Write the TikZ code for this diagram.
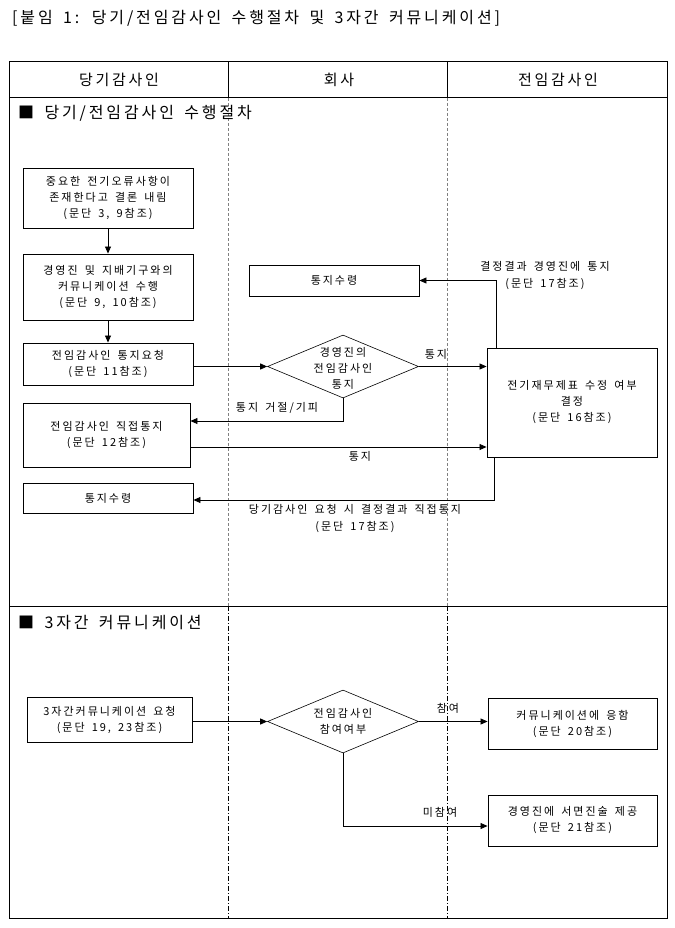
\documentclass[tikz,border=0pt]{standalone}
\usepackage{fontspec}
\setmainfont[LetterSpace=18,WordSpace=1.6]{Noto Sans CJK KR}
\usetikzlibrary{shapes.geometric,arrows.meta}
\begin{document}
\begin{tikzpicture}[x=1pt,y=-1pt,
  box/.style={draw,line width=0.9pt,rectangle,inner sep=0pt,align=center,font=\fontsize{11}{16}\selectfont},
  dia/.style={draw,line width=0.6pt,diamond,inner sep=0pt,minimum width=151pt,minimum height=63pt},
  txt/.style={inner sep=0pt,align=center,font=\fontsize{11}{16}\selectfont},
  lbl/.style={inner sep=0pt,align=center,font=\fontsize{11}{17}\selectfont},
  arr/.style={draw,line width=0.8pt,-{Triangle[length=7pt,width=6pt]}},
  hdr/.style={inner sep=0pt,font=\fontsize{15}{17}\selectfont},
  sec/.style={inner sep=0pt,anchor=west,font=\fontsize{16}{18}\selectfont},
  lane1/.style={draw=gray,line width=0.8pt,dash pattern=on 3pt off 2pt},
  lane2/.style={draw=black,line width=1pt,dash pattern=on 5pt off 2pt on 1pt off 2pt}]
\useasboundingbox (0,0) rectangle (674,928);
% title
\node[inner sep=0pt,anchor=west,font=\fontsize{16}{18}\selectfont] (title) at (12,18) {[붙임 1: 당기/전임감사인 수행절차 및 3자간 커뮤니케이션]};
% table
\draw[line width=1pt] (9,62) rectangle (667,918);
\draw[line width=1pt] (9,98) -- (667,98);
\draw[line width=1pt] (9,606) -- (667,606);
\draw[line width=0.8pt] (228,62) -- (228,98);
\draw[line width=0.8pt] (447,62) -- (447,98);
\draw[lane1] (228,98) -- (228,606);
\draw[lane1] (447,98) -- (447,606);
\draw[lane2] (228,606) -- (228,918);
\draw[lane2] (447,606) -- (447,918);
\node[hdr] (h1) at (119,80) {당기감사인};
\node[hdr] (h2) at (339,80) {회사};
\node[hdr] (h3) at (558,80) {전임감사인};
\node[sec] (s1) at (18,113) {■ 당기/전임감사인 수행절차};
\node[sec] (s2) at (18,623) {■ 3자간 커뮤니케이션};
% section 1 nodes
\node[box,minimum width=170pt,minimum height=60pt] (b1) at (108,198) {중요한 전기오류사항이\\존재한다고 결론 내림\\(문단 3, 9참조)};
\node[box,minimum width=170pt,minimum height=66pt] (b2) at (108,287) {경영진 및 지배기구와의\\커뮤니케이션 수행\\(문단 9, 10참조)};
\node[box,minimum width=170pt,minimum height=42pt] (b3) at (108,364) {전임감사인 통지요청\\(문단 11참조)};
\node[box,minimum width=167pt,minimum height=64pt] (b4) at (106.5,435) {전임감사인 직접통지\\(문단 12참조)};
\node[box,minimum width=170pt,minimum height=30pt] (b5) at (108,498) {통지수령};
\node[box,minimum width=170pt,minimum height=31pt] (b6) at (334,280.5) {통지수령};
\node[box,minimum width=170pt,minimum height=109pt] (b7) at (572,402.5) {전기재무제표 수정 여부\\결정\\(문단 16참조)};
\node[dia] (d1) at (343,366.5) {};
\node[txt] (d1t) at (343,368) {경영진의\\전임감사인\\통지};
% section 1 connectors
\coordinate (c41) at ([yshift=14pt]b4.east);
\coordinate (c42) at ([yshift=-12pt]b4.east);
\coordinate (c5) at ([yshift=-2pt]b5.east);
\draw[arr] (b1.south) -- (b2.north);
\draw[arr] (b2.south) -- (b3.north);
\draw[arr] (b3.east |- d1.west) -- (d1.west);
\draw[arr] (d1.east) -- (b7.west |- d1.east);
\draw[arr] (d1.south) |- (c41);
\draw[arr] (c42) -- (b7.west |- c42);
\draw[arr] ([xshift=10pt]b7.north west) |- (b6.east);
\draw[arr] ([xshift=8pt]b7.south west) |- (c5);
\node[lbl] (l1) at (436,354) {통지};
\node[lbl] (l2) at (277,408) {통지 거절/기피};
\node[lbl] (l3) at (360,456) {통지};
\node[lbl] (l4) at (545,276) {결정결과 경영진에 통지\\(문단 17참조)};
\node[lbl] (l5) at (355,519) {당기감사인 요청 시 결정결과 직접통지\\(문단 17참조)};
% section 2 nodes
\node[box,minimum width=165pt,minimum height=45pt] (b8) at (109.5,719.5) {3자간커뮤니케이션 요청\\(문단 19, 23참조)};
\node[dia] (d2) at (343,721.5) {};
\node[txt] (d2t) at (343,721) {전임감사인\\참여여부};
\node[box,minimum width=169pt,minimum height=51pt] (b9) at (572.5,723.5) {커뮤니케이션에 응함\\(문단 20참조)};
\node[box,minimum width=169pt,minimum height=51pt] (b10) at (572.5,820.5) {경영진에 서면진술 제공\\(문단 21참조)};
\coordinate (c10) at ([yshift=-5.5pt]b10.west);
\draw[arr] (b8.east |- d2.west) -- (d2.west);
\draw[arr] (d2.east) -- (b9.west |- d2.east);
\draw[arr] (d2.south) |- (c10);
\node[lbl] (l6) at (448,708) {참여};
\node[lbl] (l7) at (440,812) {미참여};
\end{tikzpicture}
\end{document}
